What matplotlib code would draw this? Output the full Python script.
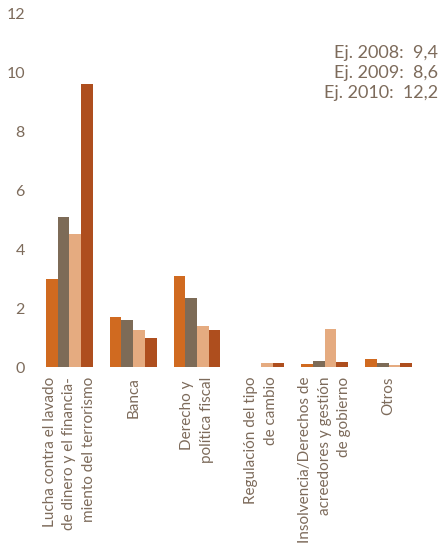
import numpy as np
import matplotlib
matplotlib.use("Agg")
import matplotlib.pyplot as plt

plt.rcParams['font.family'] = ['Lato', 'DejaVu Sans']

categories = [
    "Lucha contra el lavado\nde dinero y el financia-\nmiento del terrorismo",
    "Banca",
    "Derecho y \npolítica fiscal",
    "Regulación del tipo\nde cambio",
    "Insolvencia/Derechos de\nacreedores y gestión\nde gobierno",
    "Otros",
]
serie_a = [3.0, 1.7, 3.1, 0.0, 0.1, 0.27]
serie_b = [5.1, 1.6, 2.35, 0.0, 0.2, 0.13]
serie_c = [4.5, 1.25, 1.4, 0.13, 1.3, 0.06]
serie_d = [9.6, 1.0, 1.25, 0.13, 0.16, 0.13]
yticks = [0, 2, 4, 6, 8, 10, 12]
totales = ["Ej. 2008:  9,4", "Ej. 2009:  8,6", "Ej. 2010:  12,2"]

colores = ["#D06A20", "#7D6B57", "#E5AB80", "#AE4E1E"]
texto = "#7D6B5B"

fig = plt.figure(figsize=(4.45, 5.45), dpi=100)
ax = fig.add_axes([0.084, 0.3266, 0.861, 0.6495])

x = np.arange(len(categories))
w = 0.1835
for i, (vals, col) in enumerate(zip([serie_a, serie_b, serie_c, serie_d], colores)):
    ax.bar(x + (i - 1.5) * w, vals, width=w, color=col, linewidth=0)

ax.set_xlim(-0.5, len(categories) - 0.5)
ax.set_ylim(0, 12)
ax.set_yticks(yticks)
ax.set_yticklabels([str(t) for t in yticks], fontsize=11.5)
ax.set_xticks(x)
ax.set_xticklabels(categories, rotation=90, ha='center', va='top',
                   multialignment='right', linespacing=1.5, fontsize=11)
ax.tick_params(axis='both', length=0, labelcolor=texto)
ax.tick_params(axis='x', pad=7)
ax.tick_params(axis='y', pad=9)
for s in ax.spines.values():
    s.set_visible(False)

for k, t in enumerate(totales):
    fig.text(0.984, 0.903 - k * 0.037, t, ha='right', va='center',
             fontsize=13, color=texto)

fig.savefig("out.png", dpi=100)
